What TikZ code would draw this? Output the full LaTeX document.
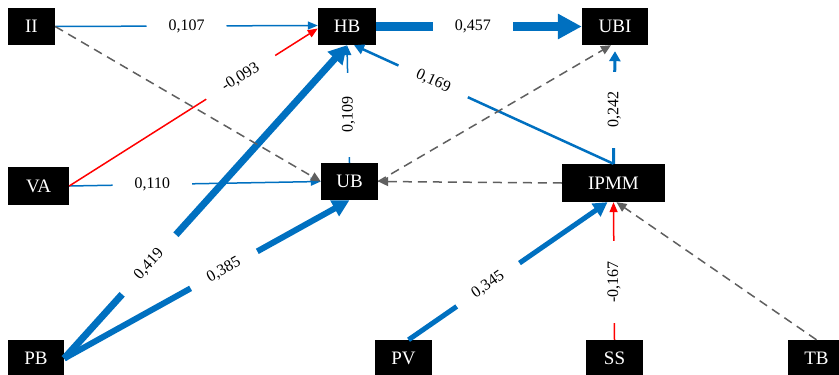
\documentclass[tikz,border=0pt]{standalone}
\usepackage{fontspec}
\setmainfont{Liberation Serif}
\usetikzlibrary{arrows.meta}
\definecolor{pblue}{RGB}{0,112,192}
\definecolor{pred}{RGB}{255,0,0}
\definecolor{pgray}{RGB}{95,95,95}
\begin{document}
\begin{tikzpicture}[x=1pt,y=-1pt,
  box/.style={fill=black,text=white,inner sep=0pt,minimum height=37pt,font=\fontsize{19}{21}\selectfont},
  lab/.style={fill=white,text=black,font=\fontsize{16}{18}\selectfont,inner ysep=2pt,sloped},
  vlab/.style={fill=white,text=black,font=\fontsize{16}{18}\selectfont,inner ysep=2pt,rotate=90},
  bthin/.style={draw=pblue,line width=1.5pt,-{Triangle[length=10pt,width=8pt]}},
  bmid/.style={draw=pblue,line width=2.5pt,-{Triangle[length=10pt,width=10pt]}},
  bthree/.style={draw=pblue,line width=3pt,-{Triangle[length=10pt,width=11pt]}},
  bfive/.style={draw=pblue,line width=5pt,-{Triangle[length=14pt,width=15pt]}},
  bsix/.style={draw=pblue,line width=6pt,-{Triangle[length=17pt,width=17pt]}},
  bseven/.style={draw=pblue,line width=7pt,-{Triangle[length=18pt,width=19pt]}},
  bnine/.style={draw=pblue,line width=9pt,-{Triangle[length=24pt,width=24pt]}},
  redarr/.style={draw=pred,line width=1.5pt,-{Triangle[length=10pt,width=8pt]}},
  dashg/.style={draw=pgray,line width=1.5pt,dash pattern=on 9pt off 6pt,-{Triangle[length=10pt,width=9pt]}}
]
\useasboundingbox (0,0) rectangle (839,375);

\node[box,minimum width=47pt] (II) at (31.5,26.5) {II};
\node[box,minimum width=58pt] (HB) at (347,26.5) {HB};
\node[box,minimum width=66pt] (UBI) at (615,26.5) {UBI};
\node[box,minimum width=61pt,minimum height=38pt] (VA) at (38.5,186) {VA};
\node[box,minimum width=57pt] (UB) at (349.5,181.5) {UB};
\node[box,minimum width=103pt,minimum height=38pt] (IPMM) at (613.5,183) {IPMM\hspace{22pt}};
\node[box,minimum width=56pt] (PB) at (36,358.5) {PB};
\node[box,minimum width=57pt] (PV) at (403.5,358.5) {PV};
\node[box,minimum width=57pt] (SS) at (614.5,358.5) {SS};
\node[box,minimum width=57pt] (TB) at (816.5,358.5) {TB};

% thin connectors
\draw[bthin] (II.east) -- node[lab,pos=0.5,inner xsep=22pt]{0,107} ([yshift=1pt]HB.west);
\draw[bthin] (VA.east) -- node[lab,pos=0.33,inner xsep=22pt]{0,110} (UB.west);
\draw[redarr] (VA.east) -- node[lab,pos=0.69,inner xsep=20pt]{-0,093} ([yshift=-2pt]HB.west);
\draw[bthin] (UB.north) -- node[vlab,pos=0.41,inner xsep=24pt]{0,109} (HB.south);
\draw[bmid] (IPMM.north) -- node[lab,pos=0.695,inner xsep=20pt]{0,169} ([xshift=7pt]HB.south);
\draw[bthree] (IPMM.north) -- node[vlab,pos=0.48,inner xsep=20pt]{0,242} ([yshift=-6pt]UBI.south);
\draw[redarr] (SS.north) -- node[vlab,pos=0.42,inner xsep=20pt]{-0,167} (IPMM.south);

% thick connectors
\draw[bnine] (HB.east) -- node[lab,pos=0.47,inner xsep=22pt]{0,457} (UBI.west);
\draw[bfive] ([xshift=5pt]PV.north) -- node[lab,pos=0.40,inner xsep=20pt]{0,345} ([xshift=-6pt]IPMM.south);
\draw[bsix] (PB.east) -- node[lab,pos=0.56,inner xsep=20pt]{0,385} (UB.south);
\draw[bseven] (PB.east) -- node[lab,pos=0.30,inner xsep=22pt]{0,419} (HB.south);

% dashed connectors
\draw[dashg] (II.east) -- (UB.west);
\draw[dashg] (UB.east) -- ([xshift=-4pt]UBI.south);
\draw[dashg] (IPMM.west) -- (UB.east);
\draw[dashg] (TB.north) -- ([xshift=3pt]IPMM.south);
\end{tikzpicture}
\end{document}
